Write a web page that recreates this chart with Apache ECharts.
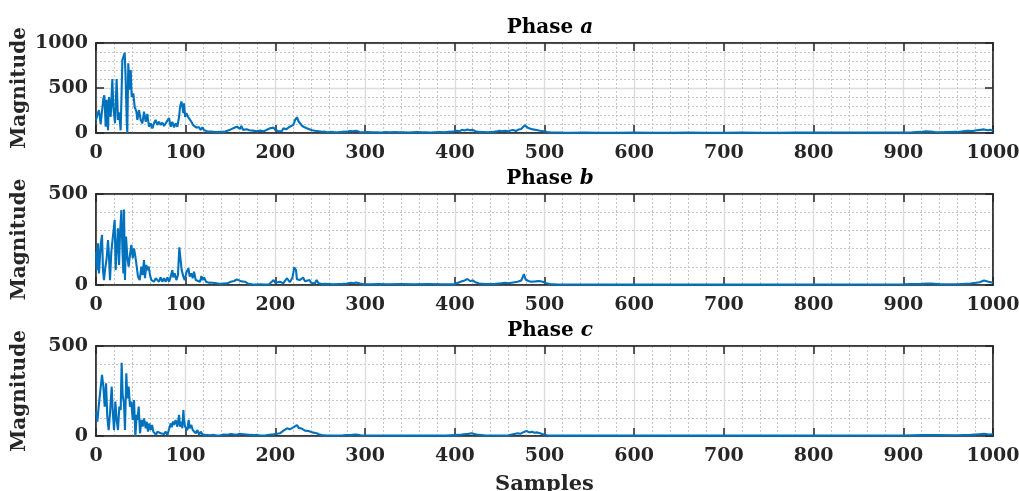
<!DOCTYPE html>
<html><head><meta charset="utf-8">
<script src="https://cdn.jsdelivr.net/npm/echarts@6/dist/echarts.min.js"></script>
<style>html,body{margin:0;padding:0;background:#fff}#c{width:1019px;height:491px}</style>
</head><body><div id="c"></div>
<script>
// Sample index / magnitude pairs
const phaseA = [[0,144],[1.5,200],[3.3,255],[5.2,100],[8.2,380],[9.3,420],[10.8,70],[11.9,370],[13.4,30],[14.5,400],[16.4,180],[18.2,600],[19.3,290],[21.2,110],[23,600],[24.5,145],[25.7,230],[27.5,30],[29.4,810],[30.5,830],[32,890],[33.1,590],[34.2,145],[34.9,0],[36,775],[37.2,480],[38.7,700],[39.8,400],[41.6,440],[43.1,290],[45,240],[46.1,145],[48,255],[49.8,145],[51.7,107],[53.5,237],[55.4,125],[57.2,211],[59.1,70],[61,107],[62.8,52],[64.7,110],[66.5,145],[68.4,90],[70.3,125],[72.1,90],[74,115],[75.8,78],[77.7,107],[79.6,88],[81.4,165],[83.3,70],[85.1,125],[87,63],[88.8,107],[90.7,70],[92.6,180],[93.7,290],[95.2,350],[96.3,290],[97.4,220],[98.1,330],[99.3,180],[100.7,220],[102.6,180],[104.5,165],[106.3,125],[108.2,90],[109.3,78],[111.2,63],[113,52],[114.9,63],[116.7,33],[118.6,63],[120.4,33],[122.3,26],[124.2,15],[126,26],[127.9,15],[130,24],[131.6,12],[133.5,20],[135.3,10],[137,22],[139,14],[141,26],[142.8,12],[144.5,20],[146.5,26],[148.5,15],[150.2,40],[152,28],[153,52],[155,38],[157,70],[159,90],[160.5,45],[162,78],[164,35],[166,55],[168,41],[170,22],[171,30],[173,18],[175,26],[177,14],[179,20],[181,12],[183,26],[185,15],[187,20],[189,10],[190,33],[192,18],[194,52],[196,33],[198,60],[200,33],[201,41],[203,22],[205,33],[207,20],[209,52],[211,30],[212,41],[214,28],[216,70],[218,52],[220,90],[222,145],[224,175],[226,125],[228,107],[230,78],[231,90],[233,60],[235,63],[237,45],[239,52],[241,30],[242,41],[244,25],[246,33],[248,20],[250,26],[252,14],[255,15],[258,8],[261,12],[265,10],[270,8],[275,12],[280,15],[283,22],[286,18],[290,25],[294,12],[298,8],[303,10],[308,7],[313,9],[318,6],[323,10],[328,8],[333,11],[338,7],[343,9],[348,6],[353,8],[358,10],[363,7],[368,9],[373,6],[378,8],[383,10],[388,9],[393,12],[398,15],[402,25],[405,18],[408,35],[411,28],[414,40],[417,30],[420,35],[423,20],[427,12],[432,10],[437,8],[442,12],[447,18],[450,25],[453,20],[456,25],[459,18],[462,28],[465,33],[468,22],[471,38],[474,45],[476,52],[478,85],[480,63],[482,55],[484,50],[487,40],[491,33],[495,25],[499,20],[503,12],[507,8],[512,5],[520,4],[530,3],[545,4],[560,3],[580,3],[600,4],[620,3],[640,3],[660,4],[680,3],[700,3],[720,4],[740,3],[760,3],[780,4],[800,4],[820,5],[840,5],[860,4],[880,5],[900,6],[910,8],[920,12],[925,18],[930,15],[935,10],[940,8],[950,10],[960,12],[967,20],[972,25],[977,22],[982,30],[986,35],[990,40],[994,30],[997,35],[1000,25]];

const phaseB = [[0,183],[0.7,82],[2.2,229],[3.3,64],[5.2,220],[6.7,275],[7.8,82],[8.9,27],[10,82],[11.9,147],[13.4,247],[14.5,156],[15.6,27],[17.1,183],[18.6,192],[20.8,357],[21.9,82],[23,192],[24.5,311],[25.7,110],[26.8,284],[28.3,412],[29.4,201],[30.5,64],[31.2,415],[32.3,27],[33.5,266],[34.9,156],[36.4,101],[37.9,165],[39.4,220],[40.9,147],[42.4,201],[43.9,156],[45.4,101],[46.8,46],[48.7,27],[50.6,101],[52,55],[53.5,137],[54.6,37],[56.1,110],[57.2,82],[58.7,101],[60.2,55],[61.7,27],[63.2,37],[64.7,18],[66.5,37],[68.4,46],[70.3,18],[72.1,42],[74,18],[75.8,37],[77.7,18],[79.6,42],[81.4,18],[83.3,46],[85.1,82],[86.2,42],[87.7,64],[89.6,27],[91.4,55],[92.9,207],[94.4,201],[95.5,82],[97.4,46],[98.9,27],[101.1,73],[103,92],[104.5,46],[106.3,64],[107.8,37],[109.3,73],[111.2,27],[113,37],[116,18],[117.5,49],[119,27],[120.4,42],[122.7,18],[124.2,27],[126,13],[127.9,9],[130,12],[131.6,7],[134,10],[136,4],[139,5],[142,8],[144,4],[146.5,9],[148,5],[150.2,18],[152,10],[154,22],[157,31],[159,37],[162,20],[164,14],[166,18],[168,10],[170,6],[172,8],[174,4],[176,7],[178,3],[180,9],[183,4],[185,5],[188,3],[190,6],[193,4],[195,8],[198,27],[200,12],[202,20],[205,18],[207,8],[209,10],[211,25],[213,37],[216,15],[219,40],[221,97],[223,82],[224,31],[227,27],[229,18],[231,40],[233,20],[235,18],[238,27],[240,12],[242,18],[244,8],[246,27],[248,10],[250,12],[252,5],[255,6],[260,5],[265,4],[270,5],[275,6],[280,8],[284,12],[287,10],[290,14],[294,8],[298,5],[305,4],[315,5],[325,4],[340,5],[355,4],[370,5],[385,4],[400,5],[405,15],[408,20],[411,25],[414,33],[417,22],[420,25],[423,15],[427,8],[435,5],[445,6],[452,10],[456,12],[460,10],[465,14],[470,18],[474,25],[476,45],[477,60],[479,30],[482,22],[485,18],[490,20],[494,22],[498,18],[502,10],[506,5],[515,3],[540,3],[570,2],[600,3],[650,2],[700,3],[750,2],[800,3],[850,3],[900,4],[920,6],[930,8],[940,5],[960,4],[975,8],[985,15],[990,25],[995,18],[1000,12]];

const phaseC = [[0,135],[1.5,80],[3,163],[4.5,237],[6.7,339],[8.2,274],[9.7,163],[11.2,293],[12.6,107],[14.1,33],[15.6,126],[17.5,274],[18.6,144],[20.1,33],[21.6,191],[23,89],[24.5,33],[26,163],[27.5,144],[28.6,407],[29.7,228],[31.2,181],[32.3,33],[33.8,348],[34.9,209],[36.4,274],[37.9,163],[39.4,191],[40.9,89],[42.4,200],[43.9,0],[45.4,117],[46.1,89],[47.6,163],[49.1,15],[50.6,89],[52,52],[53.5,98],[55.4,43],[56.5,80],[58,24],[59.5,70],[61,33],[62.5,61],[63.9,24],[65.4,33],[66.9,6],[68.4,24],[70.3,33],[72.1,15],[74,24],[75.8,11],[77.7,24],[79.6,6],[81.4,15],[83.3,70],[84.4,48],[85.9,80],[87,61],[88.8,89],[90.7,52],[92.6,117],[93.7,52],[95.2,80],[96.3,43],[97.4,144],[98.1,89],[99.3,52],[100.7,61],[101.9,33],[103.3,89],[104.5,43],[106.3,61],[107.8,33],[109.3,43],[111.2,15],[113,33],[114.9,6],[116.7,24],[118.6,9],[120.4,18],[122.3,6],[124.2,11],[127,4],[129,8],[131.6,6],[134,3],[136,7],[139,4],[142,8],[144,3],[146.5,7],[148,4],[150.2,11],[153,9],[155,5],[157,7],[160,12],[162,18],[164,10],[166,14],[168,8],[170,4],[172,6],[174,3],[176,5],[178,8],[180,6],[183,3],[185,5],[188,3],[190,4],[193,7],[195,6],[198,9],[200,5],[202,12],[205,15],[207,25],[209,30],[211,22],[213,43],[215,33],[216,37],[218,30],[220,48],[222,40],[224,61],[226,45],[227,55],[229,42],[231,37],[233,30],[235,24],[237,28],[239,33],[241,20],[243,12],[246,15],[249,8],[252,5],[258,3],[265,3],[275,4],[285,6],[290,8],[295,4],[310,3],[330,2],[360,3],[390,2],[405,6],[410,10],[415,12],[419,15],[423,10],[427,6],[435,3],[450,3],[460,4],[465,10],[470,15],[473,12],[476,20],[478,18],[480,28],[483,20],[486,24],[489,18],[492,20],[495,15],[499,8],[503,4],[510,2],[560,2],[620,2],[700,2],[780,2],[840,3],[900,3],[920,5],[935,5],[960,4],[975,6],[985,10],[990,12],[995,8],[1000,10]];

const seriesData = [phaseA, phaseB, phaseC];
const phaseLetters = ['a', 'b', 'c'];
const yMaxes = [1000, 500, 500];
const xTickLabels = ['0','100','200','300','400','500','600','700','800','900','1000'];

const FONT = '"DejaVu Serif", serif';
const INK = '#262626';
const gridTops = [43, 194, 346];
const gridHeights = [90, 91, 90];
const titleTops = [12.5, 163.5, 315.5];

const grid = [], xAxis = [], yAxis = [], series = [], title = [];
for (let i = 0; i < 3; i++) {
  grid.push({left: 96, right: 26, top: gridTops[i], height: gridHeights[i],
    containLabel: false, outerBoundsMode: 'none',
    show: true, borderColor: INK, borderWidth: 1.5, backgroundColor: '#fff'});
  const common = {
    gridIndex: i, type: 'value', min: 0, max: 1000, interval: 100,
    axisLine: {show: true, onZero: false, lineStyle: {color: INK, width: 1.5}},
    axisTick: {show: true, inside: true, length: 8, lineStyle: {color: INK, width: 1.5}}
  };
  xAxis.push(Object.assign({}, common, {
    position: 'bottom',
    axisLabel: {show: true, color: INK, fontFamily: FONT, fontWeight: 'bold', fontSize: 19, margin: 11,
      formatter: v => xTickLabels[Math.round(v / 100)]},
    splitLine: {show: true, lineStyle: {color: '#dcdcdc', width: 1.4}},
    minorTick: {show: false, splitNumber: 5},
    minorSplitLine: {show: true, lineStyle: {color: '#c4c4c4', width: 1, type: [2, 2]}},
    name: i === 2 ? 'Samples' : '', nameLocation: 'middle', nameGap: 38, nameMoveOverlap: false,
    nameTextStyle: {color: INK, fontFamily: FONT, fontWeight: 'bold', fontSize: 21}
  }));
  xAxis.push(Object.assign({}, common, {
    position: 'top', axisLabel: {show: false}, splitLine: {show: false}
  }));
  const ycommon = {
    gridIndex: i, type: 'value', min: 0, max: yMaxes[i], interval: 500,
    axisLine: {show: true, onZero: false, lineStyle: {color: INK, width: 1.5}},
    axisTick: {show: true, inside: true, length: 8, lineStyle: {color: INK, width: 1.5}}
  };
  yAxis.push(Object.assign({}, ycommon, {
    position: 'left',
    axisLabel: {show: true, color: INK, fontFamily: FONT, fontWeight: 'bold', fontSize: 19, margin: 8,
      formatter: v => String(v)},
    splitLine: {show: true, lineStyle: {color: '#dcdcdc', width: 1.4}},
    minorTick: {show: false, splitNumber: 5},
    minorSplitLine: {show: true, lineStyle: {color: '#c4c4c4', width: 1, type: [2, 2]}},
    name: 'Magnitude', nameLocation: 'middle', nameGap: 66, nameMoveOverlap: false,
    nameTextStyle: {color: INK, fontFamily: FONT, fontWeight: 'bold', fontSize: 20}
  }));
  yAxis.push(Object.assign({}, ycommon, {
    position: 'right', axisLabel: {show: false}, splitLine: {show: false}
  }));
  series.push({
    type: 'line', xAxisIndex: i * 2, yAxisIndex: i * 2,
    data: seriesData[i], showSymbol: false, symbol: 'none', clip: false,
    lineStyle: {color: '#0072BD', width: 2.1}, z: 5
  });
  title.push({
    text: '{p|Phase }{i|' + phaseLetters[i] + '}',
    left: 545, top: titleTops[i], textAlign: 'center',
    textStyle: {rich: {
      p: {fontFamily: FONT, fontWeight: 'bold', fontSize: 20, color: '#000'},
      i: {fontFamily: FONT, fontWeight: 'bold', fontStyle: 'italic', fontSize: 20, color: '#000'}
    }}
  });
}

const chart = echarts.init(document.getElementById('c'), null, {renderer: 'canvas'});
chart.setOption({animation: false, backgroundColor: '#fff', title, grid, xAxis, yAxis, series});
</script>
</body></html>
